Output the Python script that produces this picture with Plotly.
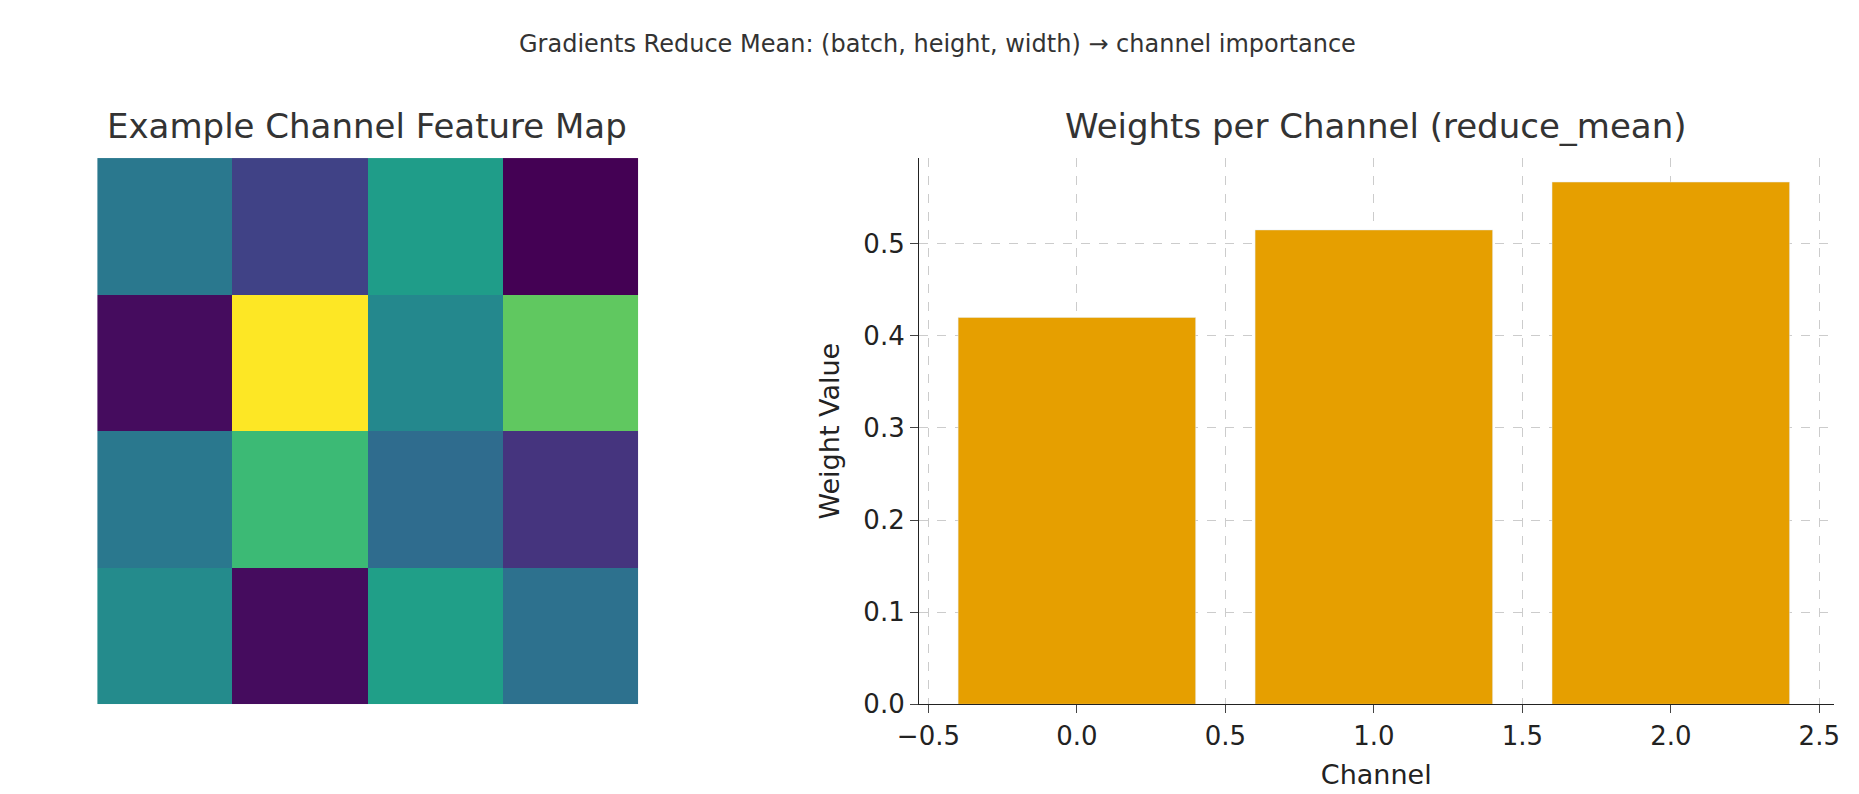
import plotly.graph_objects as go

feature_map = [
    [0.40, 0.20, 0.55, 0.00],
    [0.03, 1.00, 0.47, 0.75],
    [0.40, 0.68, 0.35, 0.15],
    [0.48, 0.03, 0.56, 0.37],
]
channels = [0, 1, 2]
weights = [0.42, 0.515, 0.567]
xticks = [-0.5, 0.0, 0.5, 1.0, 1.5, 2.0, 2.5]
yticks = [0.0, 0.1, 0.2, 0.3, 0.4, 0.5]

fig = go.Figure()
fig.add_trace(go.Heatmap(z=feature_map, colorscale="Viridis", showscale=False,
                         zmin=0, zmax=1, xaxis="x", yaxis="y", hoverinfo="z"))
fig.add_trace(go.Bar(x=channels, y=weights, marker_color="#E69F00", width=0.8,
                     xaxis="x2", yaxis="y2"))

font = "DejaVu Sans"
grid = dict(showgrid=True, gridcolor="#cccccc", griddash="dash", gridwidth=1)
fig.update_layout(
    width=1859, height=794, plot_bgcolor="white", paper_bgcolor="white",
    font=dict(family=font, color="#222"), showlegend=False,
    margin=dict(l=0, r=0, t=0, b=0, autoexpand=False),
    xaxis=dict(domain=[0.048, 0.339], visible=False, range=[-0.5, 3.5]),
    yaxis=dict(domain=[0.123, 0.811], visible=False, range=[3.5, -0.5]),
    xaxis2=dict(domain=[0.49, 0.982], anchor="y2", range=[-0.532, 2.548],
                tickvals=xticks, ticktext=[f"{v:.1f}".replace("-", "−") for v in xticks],
                tickfont=dict(size=26), ticks="outside", ticklen=8, linecolor="#222",
                showline=True, zeroline=False, title=dict(text="Channel", font=dict(size=27)), **grid),
    yaxis2=dict(domain=[0.123, 0.811], anchor="x2", range=[0, 0.593],
                tickvals=yticks, ticktext=[f"{v:.1f}" for v in yticks],
                tickfont=dict(size=26), ticks="outside", ticklen=8, linecolor="#222",
                showline=True, zeroline=False, title=dict(text="Weight Value", font=dict(size=27)), **grid),
    annotations=[
        dict(text="Gradients Reduce Mean: (batch, height, width) → channel importance",
             x=0.5, y=0.955, xref="paper", yref="paper", showarrow=False,
             xanchor="center", yanchor="middle", font=dict(size=24, color="#333")),
        dict(text="Example Channel Feature Map", x=0.193, y=0.852, xref="paper", yref="paper",
             xanchor="center", yanchor="middle", showarrow=False, font=dict(size=34, color="#333")),
        dict(text="Weights per Channel (reduce_mean)", x=0.736, y=0.852, xref="paper", yref="paper",
             xanchor="center", yanchor="middle", showarrow=False, font=dict(size=34, color="#333")),
    ],
)
fig.write_html("out.html")
